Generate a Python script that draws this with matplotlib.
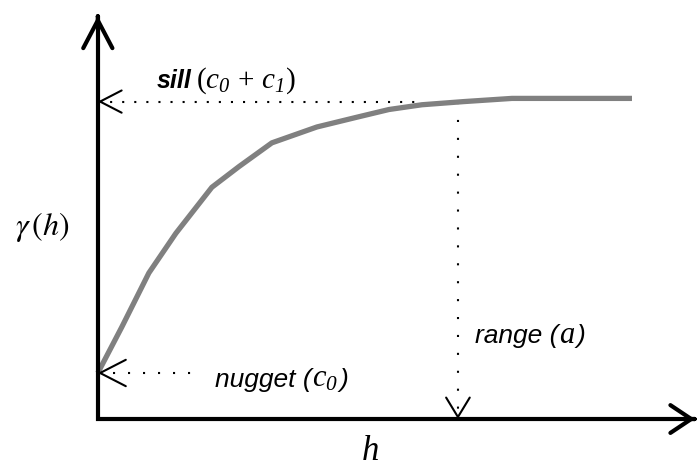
import matplotlib
matplotlib.use("Agg")
import matplotlib.pyplot as plt

plt.rcParams["mathtext.fontset"] = "custom"
plt.rcParams["mathtext.rm"] = "Liberation Serif"
plt.rcParams["mathtext.it"] = "Liberation Serif:italic"
# italic digits for the subscripts are taken through \mathbf
plt.rcParams["mathtext.bf"] = "Liberation Serif:italic"

# Semivariogram model read as (lag, semivariance) pairs
h = [0.0, 0.4, 0.85, 1.3, 1.9, 2.35, 2.9, 3.65, 4.3, 4.85, 5.4, 6.1, 6.9, 8.9]
gamma = [0.145, 0.29, 0.46, 0.585, 0.73, 0.795, 0.87, 0.92, 0.95, 0.975,
         0.99, 1.0, 1.01, 1.01]

nugget = 0.145       # c0
sill = 1.0           # c0 + c1
range_a = 6.0        # a
sill_line_end = 5.4
nugget_line_end = 1.6
x_axis_end = 9.95
y_axis_end = 1.27

fig = plt.figure(figsize=(6.98, 4.66), dpi=100)
ax = fig.add_axes([0, 0, 1, 1])
ax.set_xlim(-1.63, 10.0)
ax.set_ylim(-0.148, 1.32)
ax.axis("off")


def head(tip, direction, lw, length, width):
    """Open chevron arrowhead at `tip`, pointing along `direction`."""
    dx, dy = direction
    ax.annotate("", xy=tip, xytext=(-dx * 0.5, -dy * 0.5),
                textcoords="offset points",
                arrowprops=dict(arrowstyle=f"->,head_length={length},head_width={width}",
                                mutation_scale=1, lw=lw, color="black",
                                shrinkA=0, shrinkB=0))


SANS = dict(fontfamily="Liberation Sans", style="italic", fontsize=19)
MATH = dict(fontsize=22)


def label(x, y, parts):
    """Lay out several text pieces left to right on one baseline."""
    renderer = fig.canvas.get_renderer()
    for text, gap, kw in parts:
        x_disp = ax.transData.transform((x, y))[0] + gap
        x = ax.transData.inverted().transform((x_disp, 0))[0]
        t = ax.text(x, y, text, va="baseline", ha="left", **kw)
        bb = t.get_window_extent(renderer)
        x = ax.transData.inverted().transform((bb.x1, 0))[0]


# Axes
ax.plot([0, 0, x_axis_end], [y_axis_end, 0, 0], color="black", lw=3,
        solid_joinstyle="miter", solid_capstyle="butt", zorder=3)
head((0, y_axis_end), (0, 1), 3, 20, 10.5)
head((x_axis_end, 0), (1, 0), 3, 15, 10)

# Sill reference
ax.plot([0, sill_line_end], [sill, sill], color="black", lw=1.5,
        linestyle=(0, (1, 4.8)))
head((0, sill), (-1, 0), 1.5, 15.5, 8)

# Nugget reference
ax.plot([0, nugget_line_end], [nugget, nugget], color="black", lw=1.5,
        linestyle=(0, (1, 6.2)))
head((0, nugget), (-1, 0), 1.5, 18.5, 9.5)

# Range reference
ax.plot([range_a, range_a], [sill, 0], color="black", lw=1.5,
        linestyle=(0, (1, 7.6)))
head((range_a, 0), (0, -1), 1.5, 14, 8.5)

# Model curve
ax.plot(h, gamma, color="#808080", lw=3.8, solid_capstyle="butt", zorder=2)

# Labels
label(0.98, 1.0425, [
    ("sill", 0, dict(SANS, weight="bold", fontsize=18)),
    (r"$(c_{\mathbf{0}}\,+\,c_{\mathbf{1}})$", 4, dict(fontsize=21)),
])
label(1.95, 0.102, [
    ("nugget (", 0, SANS),
    (r"$c_{\mathbf{0}}$", 1, MATH),
    (")", 1, SANS),
])
label(6.28, 0.239, [
    ("range (", 0, SANS),
    (r"$a$", 1, MATH),
    (")", 1, SANS),
])
ax.text(4.53, -0.128, r"$h$", fontsize=25, va="baseline", ha="center")
ax.text(-1.38, 0.605, r"$\gamma\,(h)$", fontsize=23, va="center", ha="left",
        math_fontfamily="stix")

fig.savefig("out.png", dpi=100)
